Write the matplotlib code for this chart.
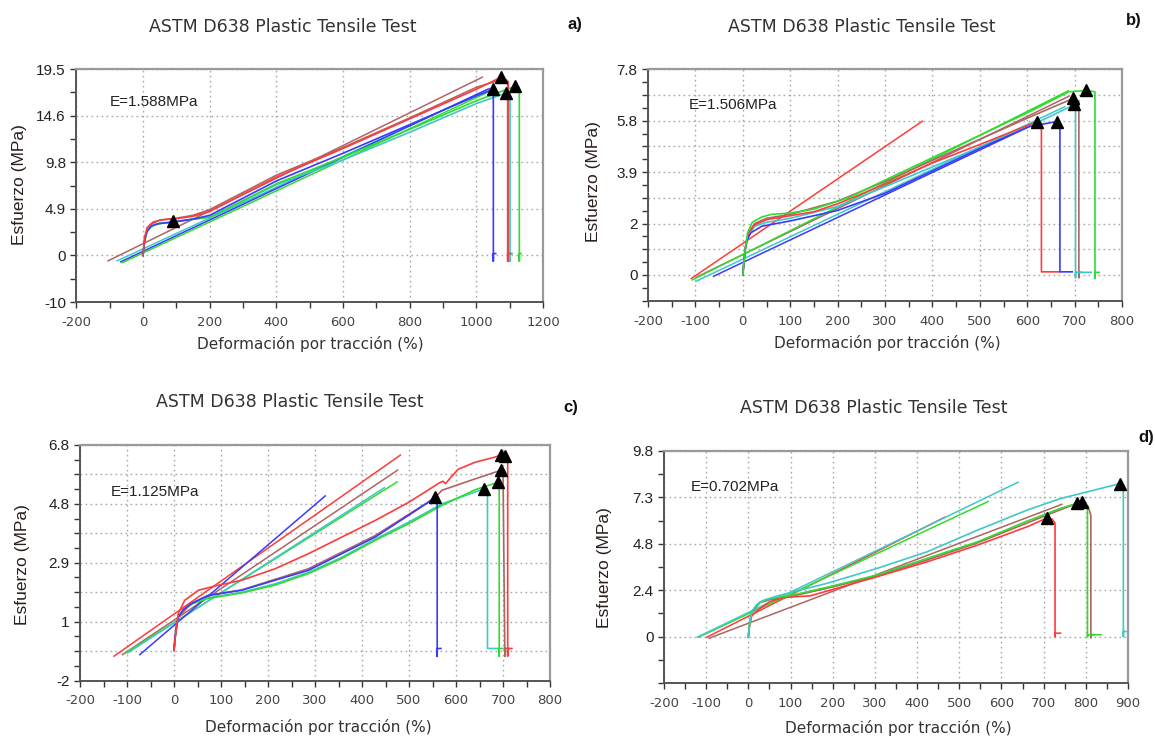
"""Four-panel ASTM D638 tensile test curves (stress vs. strain)."""

import matplotlib

matplotlib.use("Agg")
import matplotlib.pyplot as plt
import numpy as np

plt.rcParams["axes.unicode_minus"] = False

W, H = 1155, 737

COLORS = {
    "red": "#ff3b3b",
    "brown": "#b06464",
    "blue": "#3a3aff",
    "green": "#2fdc2f",
    "cyan": "#3ec8c8",
}

# ---- panel a) ---------------------------------------------------------------
a_red = [(0, 0), (4, 1.8), (12, 2.9), (30, 3.5), (60, 3.75), (100, 3.85), (150, 4.1),
         (200, 4.6), (400, 8.2), (600, 11.2), (800, 14.3), (1000, 17.4), (1074, 18.66),
         (1090, 18.4), (1094, 18.0), (1094, -0.6), (1094, 0.2), (1102, 0.2)]
a_brown = [(0, 0), (6, 2.0), (20, 3.2), (50, 3.7), (100, 3.9), (150, 4.2), (200, 4.8),
           (400, 8.4), (600, 11.3), (800, 14.4), (1000, 17.6), (1082, 18.5), (1096, 18.2),
           (1097, -0.6), (1097, 0.2), (1104, 0.2)]
a_blue = [(0, 0), (3, 1.2), (10, 2.4), (25, 3.1), (50, 3.35), (90, 3.5), (150, 3.8),
          (200, 4.2), (400, 7.8), (600, 10.7), (800, 13.7), (1000, 16.7), (1049, 17.4),
          (1051, 17.3), (1051, -0.6), (1051, 0.2), (1058, 0.2)]
a_cyan = [(0, 0), (5, 1.6), (15, 2.8), (40, 3.3), (90, 3.5), (150, 3.8), (200, 4.0),
          (400, 7.4), (600, 10.0), (800, 12.9), (1000, 15.9), (1089, 17.0), (1101, 16.9),
          (1101, -0.6), (1101, 0.2), (1108, 0.2)]
a_green = [(0, 0), (5, 1.6), (15, 2.8), (40, 3.3), (90, 3.5), (150, 3.8), (200, 4.0),
           (400, 7.5), (600, 10.3), (800, 13.2), (1000, 16.2), (1116, 17.7), (1129, 17.6),
           (1129, -0.6), (1129, 0.2), (1134, 0.2)]
a_fits = {
    "brown": [(-107, -0.6), (1020, 18.7)],
    "cyan": [(-80, -0.6), (1030, 17.3)],
    "blue": [(-69, -0.7), (1040, 17.5)],
    "green": [(-65, -0.8), (1060, 17.5)],
}
a_breaks = [(89, 3.6), (1049, 17.4), (1074, 18.66), (1089, 17.0), (1116, 17.7)]

# ---- panel b) ---------------------------------------------------------------
b_red = [(0, 0), (5, 1.0), (12, 1.6), (25, 1.9), (50, 2.1), (100, 2.25), (150, 2.4),
         (200, 2.7), (300, 3.45), (400, 4.25), (500, 4.95), (621, 5.82), (630, 5.75),
         (630, 0.12), (668, 0.12)]
b_brown = [(0, 0), (5, 1.0), (12, 1.6), (25, 1.95), (50, 2.15), (100, 2.3), (200, 2.8),
           (300, 3.55), (400, 4.35), (500, 5.15), (600, 5.95), (697, 6.7), (709, 6.6),
           (709, -0.1), (709, 0.1), (715, 0.1)]
b_blue = [(0, 0), (3, 0.6), (8, 1.3), (17, 1.6), (40, 1.85), (100, 2.05), (200, 2.45),
          (300, 3.1), (400, 3.95), (500, 4.8), (604, 5.63), (662, 5.82), (669, 5.78),
          (669, 0.12), (695, 0.12)]
b_cyan = [(0, 0), (5, 1.0), (12, 1.5), (25, 1.85), (50, 2.0), (100, 2.15), (200, 2.6),
          (300, 3.35), (400, 4.1), (500, 4.85), (600, 5.6), (698, 6.45), (702, 6.4),
          (702, -0.1), (702, 0.1), (735, 0.1)]
b_green = [(0, 0), (4, 0.8), (10, 1.6), (20, 2.0), (40, 2.2), (60, 2.3), (100, 2.35),
           (150, 2.5), (225, 2.95), (300, 3.6), (400, 4.45), (500, 5.3), (600, 6.15),
           (688, 6.95), (724, 7.0), (743, 6.95), (743, -0.13), (743, 0.1), (752, 0.1)]
b_fits = {
    "red": [(-110, -0.15), (380, 5.85)],
    "brown": [(-100, -0.1), (690, 6.8)],
    "cyan": [(-100, -0.25), (681, 6.4)],
    "blue": [(-63, -0.06), (604, 5.63)],
    "green": [(-108, -0.2), (688, 7.0)],
}
b_breaks = [(621, 5.82), (662, 5.82), (697, 6.7), (698, 6.5), (724, 7.0)]

# ---- panel c) ---------------------------------------------------------------
c_red = [(0, 0), (3, 0.5), (9, 1.22), (23, 1.66), (52, 1.99), (87, 2.13), (144, 2.32),
         (215, 2.7), (286, 3.2), (357, 3.75), (428, 4.3), (499, 4.9), (540, 5.3),
         (565, 5.55), (572, 5.6), (578, 5.52), (590, 5.75), (605, 6.0), (641, 6.23),
         (683, 6.4), (697, 6.48), (708, 6.42), (710, 6.3), (710, -0.19), (710, 0.06),
         (719, 0.06)]
c_brown = [(0, 0), (3, 0.5), (9, 1.1), (37, 1.55), (73, 1.82), (144, 2.0), (215, 2.35),
           (286, 2.7), (357, 3.25), (428, 3.8), (499, 4.5), (555, 5.05), (570, 5.3),
           (641, 5.68), (695, 5.96), (700, 5.9), (704, -0.2), (704, 0.06), (712, 0.06)]
c_blue = [(0, 0), (2, 0.4), (5, 0.8), (9, 1.1), (20, 1.35), (37, 1.55), (73, 1.82),
          (144, 1.99), (215, 2.32), (286, 2.65), (357, 3.2), (428, 3.75), (499, 4.47),
          (541, 4.9), (555, 5.07), (560, 5.0), (560, -0.2), (560, 0.06), (568, 0.06)]
c_cyan = [(0, 0), (3, 0.5), (9, 1.1), (20, 1.35), (40, 1.55), (73, 1.74), (144, 1.92),
          (215, 2.2), (286, 2.58), (357, 3.08), (428, 3.68), (499, 4.24), (570, 4.85),
          (660, 5.35), (667, 5.3), (667, 0.06), (692, 0.06)]
c_green = [(0, 0), (3, 0.5), (9, 1.1), (20, 1.35), (40, 1.55), (73, 1.72), (144, 1.9),
           (215, 2.16), (286, 2.54), (357, 3.04), (428, 3.64), (499, 4.19), (570, 4.8),
           (641, 5.32), (690, 5.57), (692, 5.5), (692, -0.2), (692, 0.06), (700, 0.06)]
c_fits = {
    "red": [(-129, -0.21), (483, 6.48)],
    "brown": [(-111, -0.16), (477, 5.98)],
    "green": [(-104, -0.1), (476, 5.59)],
    "cyan": [(-100, -0.1), (449, 5.4)],
    "blue": [(-74, -0.16), (323, 5.13)],
}
c_breaks = [(695, 6.48), (704, 6.45), (695, 5.96), (555, 5.07), (660, 5.35), (690, 5.57)]

# ---- panel d) ---------------------------------------------------------------
d_red = [(0, 0), (3, 0.6), (8, 1.1), (28, 1.5), (51, 1.84), (80, 2.05), (107, 2.1),
         (146, 2.15), (186, 2.4), (305, 3.16), (424, 3.95), (543, 4.83), (661, 5.8),
         (709, 6.27), (720, 6.2), (727, 6.0), (727, 0), (727, 0.18), (740, 0.18)]
d_brown = [(0, 0), (3, 0.7), (8, 1.3), (28, 1.8), (51, 1.95), (107, 2.15), (186, 2.55),
           (305, 3.2), (424, 4.05), (543, 4.95), (661, 6.0), (740, 6.7), (790, 7.12),
           (805, 6.9), (812, 6.4), (812, -0.05), (812, 0.1), (820, 0.1)]
d_cyan = [(0, 0), (3, 0.7), (8, 1.32), (20, 1.7), (40, 1.95), (70, 2.15), (107, 2.37),
          (186, 2.81), (305, 3.6), (424, 4.48), (543, 5.62), (661, 6.68), (740, 7.29),
          (819, 7.73), (881, 8.08), (889, 8.0), (889, 0), (889, 0.27), (895, 0.27)]
d_green = [(0, 0), (3, 0.7), (8, 1.32), (28, 1.84), (51, 2.0), (107, 2.2), (186, 2.6),
           (305, 3.25), (424, 4.13), (543, 5.0), (661, 6.1), (740, 6.77), (778, 7.03),
           (795, 7.0), (804, 6.8), (804, 0), (804, 0.1), (836, 0.1)]
d_fits = {
    "brown": [(-95, -0.1), (745, 7.0)],
    "red": [(-100, -0.05), (467, 6.32)],
    "green": [(-120, -0.05), (570, 7.15)],
    "cyan": [(-123, -0.05), (641, 8.17)],
}
d_breaks = [(709, 6.27), (778, 7.03), (790, 7.12), (881, 8.08)]

# y tick positions and the (odd) labels the test software printed
a_yticks = [-4.875, 0, 4.875, 9.75, 14.625, 19.5]
a_ylabels = ["-10", "0", "4.9", "9.8", "14.6", "19.5"]
b_yticks = [-0.975, 0, 0.975, 1.95, 2.925, 3.9, 4.875, 5.85, 6.825, 7.8]
b_ylabels = ["", "0", "", "2", "", "3.9", "", "5.8", "", "7.8"]
c_yticks = [-1.0, -0.025, 0.95, 1.925, 2.9, 3.875, 4.85, 5.825, 6.8]
c_ylabels = ["-2", "", "1", "", "2.9", "", "4.8", "", "6.8"]
d_yticks = [-2.45, 0, 2.45, 4.9, 7.35, 9.8]
d_ylabels = ["", "0", "2.4", "4.8", "7.3", "9.8"]

TITLE = "ASTM D638 Plastic Tensile Test"
XLABEL = "Deformación por tracción (%)"
YLABEL = "Esfuerzo (MPa)"


def px_axes(fig, left, top, right, bottom):
    return fig.add_axes([left / W, 1 - bottom / H, (right - left) / W, (bottom - top) / H])


def fig_text(fig, x, y, s, **kw):
    fig.text(x / W, 1 - y / H, s, **kw)


def draw_panel(ax, curves, fits, breaks, xlim, xstep, xminor, yticks, ylabels, yminor,
               modulus):
    for name, pts in fits.items():
        xs, ys = zip(*pts)
        ax.plot(xs, ys, color=COLORS[name], lw=1.1, solid_capstyle="butt", zorder=2)
    for name, pts in curves.items():
        xs, ys = zip(*pts)
        ax.plot(xs, ys, color=COLORS[name], lw=1.2, zorder=3)
    bx, by = zip(*breaks)
    ax.plot(bx, by, ls="none", marker="^", ms=8, color="black", zorder=5)

    ax.set_xlim(*xlim)
    ax.set_ylim(yticks[0], yticks[-1])
    ax.set_xticks(np.arange(xlim[0], xlim[1] + 1, xstep))
    ax.set_xticks(np.arange(xlim[0], xlim[1] + 1, xminor), minor=True)
    ax.set_yticks(yticks)
    ax.set_yticklabels(ylabels, fontfamily="Liberation Sans", fontsize=11, color="#222222")
    ax.set_yticks(np.arange(yticks[0], yticks[-1] + 1e-6, yminor), minor=True)
    for lab in ax.get_xticklabels():
        lab.set_fontsize(9.5)
        lab.set_color("#444444")
    ax.tick_params(which="both", direction="out", length=4, width=1, color="#333333")
    ax.tick_params(axis="x", pad=6)
    ax.grid(True, which="major", color="#a8a8a8", lw=1, ls=(0, (1.2, 2.4)))
    for side in ("top", "right"):
        ax.spines[side].set_color("#9a9a9a")
        ax.spines[side].set_linewidth(1.6)
    for side in ("left", "bottom"):
        ax.spines[side].set_color("#555555")
        ax.spines[side].set_linewidth(1.4)
    ax.text(modulus[0], modulus[1], modulus[2], transform=ax.transAxes,
            fontfamily="Liberation Sans", fontsize=11, color="#222222",
            ha="left", va="center")


fig = plt.figure(figsize=(W / 100, H / 100), dpi=100)
fig.patch.set_facecolor("white")

ax_a = px_axes(fig, 76.4, 69.2, 543, 302)
draw_panel(ax_a, {"brown": a_brown, "cyan": a_cyan, "green": a_green, "blue": a_blue,
                  "red": a_red},
           a_fits, a_breaks, (-200, 1200), 200, 100, a_yticks, a_ylabels, 2.4375,
           (0.072, 0.86, "E=1.588MPa"))
ax_b = px_axes(fig, 648, 69.4, 1122, 300.7)
draw_panel(ax_b, {"brown": b_brown, "cyan": b_cyan, "red": b_red, "blue": b_blue,
                  "green": b_green},
           b_fits, b_breaks, (-200, 800), 100, 50, b_yticks, b_ylabels, 0.4875,
           (0.085, 0.846, "E=1.506MPa"))
ax_c = px_axes(fig, 80, 445, 550, 680.5)
draw_panel(ax_c, {"cyan": c_cyan, "green": c_green, "brown": c_brown, "blue": c_blue,
                  "red": c_red},
           c_fits, c_breaks, (-200, 800), 100, 50, c_yticks, c_ylabels, 0.4875,
           (0.066, 0.80, "E=1.125MPa"))
ax_d = px_axes(fig, 664, 451, 1128, 683)
draw_panel(ax_d, {"brown": d_brown, "red": d_red, "green": d_green, "cyan": d_cyan},
           d_fits, d_breaks, (-200, 900), 100, 50, d_yticks, d_ylabels, 1.225,
           (0.058, 0.846, "E=0.702MPa"))

title_kw = dict(fontsize=12.5, color="#333333", ha="center", va="center")
xlab_kw = dict(fontsize=11, color="#333333", ha="center", va="center")
ylab_kw = dict(fontsize=12.5, color="#2a1f1a", ha="center", va="center", rotation=90,
               fontfamily="Liberation Sans")
tag_kw = dict(fontsize=12, fontweight="bold", color="#111111", ha="center", va="center",
              fontfamily="Liberation Sans")

for (tx, ty), (lx, ly), (yx, yy), (gx, gy, tag) in [
    ((283, 27), (310, 344), (20, 185), (575, 24, "a)")),
    ((862, 27), (887, 343), (594, 182), (1134, 21, "b)")),
    ((290, 402), (318, 727), (22, 565), (571, 407, "c)")),
    ((874, 408), (898, 728), (604, 568), (1146, 438, "d)")),
]:
    fig_text(fig, tx, ty, TITLE, **title_kw)
    fig_text(fig, lx, ly, XLABEL, **xlab_kw)
    fig_text(fig, yx, yy, YLABEL, **ylab_kw)
    fig_text(fig, gx, gy, tag, **tag_kw)

fig.savefig("out.png", dpi=100, facecolor="white")
